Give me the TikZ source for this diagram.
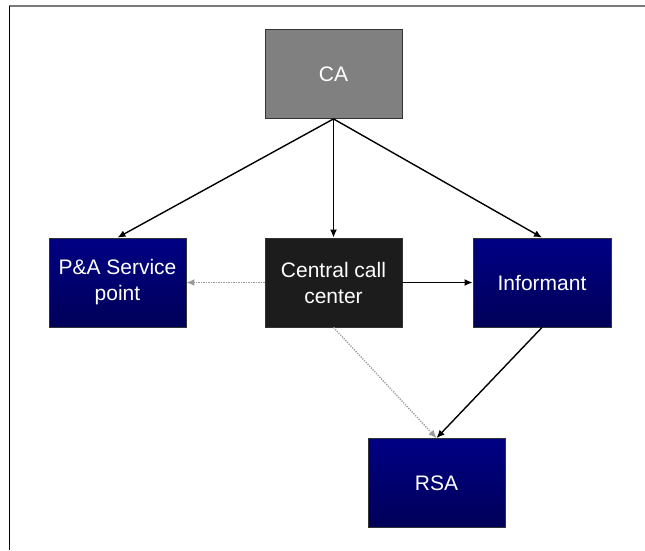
\documentclass[tikz,border=0pt]{standalone}
\usepackage{fontspec}
\setmainfont{Liberation Sans}
\usetikzlibrary{arrows.meta}
\definecolor{cagray}{HTML}{808080}
\definecolor{callblack}{HTML}{1C1C1C}
\definecolor{navytop}{HTML}{000084}
\definecolor{navybot}{HTML}{000058}
\definecolor{dotgray}{HTML}{9A9A9A}
\definecolor{frameline}{HTML}{7A7A7A}
\begin{document}
\begin{tikzpicture}[
  x=1pt, y=-1pt,
  font=\fontsize{21}{26}\selectfont,
  unit/.style={draw=black!80, line width=0.8pt, align=center, text=white,
               minimum width=137pt, minimum height=89pt, inner sep=2pt},
  navybox/.style={unit, top color=navytop, bottom color=navybot},
  arr/.style={-{Latex[length=8pt,width=7pt]}, line width=1.4pt, draw=black},
  dotarr/.style={-{Latex[length=8pt,width=7pt]}, line width=1.4pt, draw=dotgray,
                 dash pattern=on 1.2pt off 1.3pt}
]
\useasboundingbox (0,0) rectangle (645,550);
% frame
\draw[frameline, line width=2pt] (9,6) -- (645,6);
\draw[black, line width=1.8pt] (9.5,6) -- (9.5,550);
% boxes
\node[unit, fill=cagray] (ca) at (333.5,74) {CA};
\node[navybox] (pa) at (117.5,282.5) {P\&A Service\\point};
\node[unit, fill=callblack] (call) at (333.5,282.5) {Central call\\center};
\node[navybox, minimum width=138pt] (inf) at (542,282.5) {Informant};
\node[navybox] (rsa) at (436.5,483) {RSA};
% connectors
\draw[arr] (ca.south) -- (pa.north);
\draw[arr] (ca.south) -- (call.north);
\draw[arr] (ca.south) -- (inf.north);
\draw[arr] (call.east) -- (inf.west);
\draw[arr] (inf.south) -- (rsa.north);
\draw[dotarr] (call.west) -- (pa.east);
\draw[dotarr] (call.south) -- (rsa.north);
\end{tikzpicture}
\end{document}
